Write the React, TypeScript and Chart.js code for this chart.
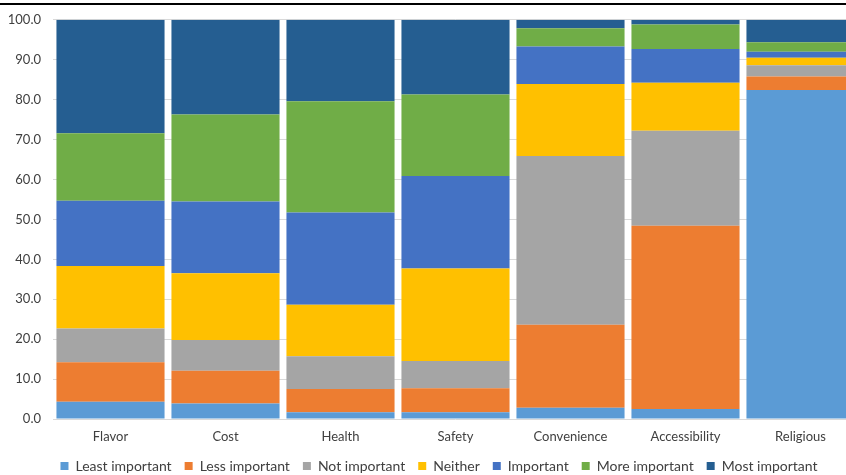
import React, { useEffect, useRef } from "react";
import { Chart, registerables } from "chart.js";

Chart.register(...registerables);

// Food choice factors
const categories = ["Flavor", "Cost", "Health", "Safety", "Convenience", "Accessibility", "Religious"];

// Share of responses per importance level (%)
const leastImportant = [4.3, 3.9, 1.7, 1.7, 2.8, 2.5, 82.4];
const lessImportant = [9.9, 8.2, 5.8, 6.0, 20.8, 45.9, 3.4];
const notImportant = [8.5, 7.7, 8.2, 6.8, 42.3, 23.8, 2.8];
const neither = [15.6, 16.7, 12.9, 23.2, 18.0, 12.0, 1.9];
const important = [16.4, 18.0, 23.1, 23.2, 9.4, 8.5, 1.5];
const moreImportant = [16.9, 21.8, 27.9, 20.4, 4.6, 6.1, 2.4];
const mostImportant = [28.4, 23.7, 20.4, 18.7, 2.1, 1.2, 5.6];

const seriesLabels = [
  "Least important",
  "Less important",
  "Not important",
  "Neither",
  "Important",
  "More important",
  "Most important",
];
const seriesValues = [leastImportant, lessImportant, notImportant, neither, important, moreImportant, mostImportant];
const seriesColors = ["#5B9BD5", "#ED7D31", "#A5A5A5", "#FFC000", "#4472C4", "#70AD47", "#255E91"];

const yTicks = [0, 10, 20, 30, 40, 50, 60, 70, 80, 90, 100];

const FONT = "Lato, 'Open Sans', sans-serif";

// Nudges the legend row to the right so it sits centred under the visible plot
const legendOffset = {
  id: "legendOffset",
  afterLayout(chart: any) {
    const lg = chart.legend;
    if (lg) {
      lg.left += 10;
      lg.right += 10;
    }
  },
};

export default function App() {
  const canvasRef = useRef<HTMLCanvasElement | null>(null);

  useEffect(() => {
    if (!canvasRef.current) return;
    const chart = new Chart(canvasRef.current, {
      type: "bar",
      data: {
        labels: categories,
        datasets: seriesLabels.map((label, i) => ({
          label,
          data: seriesValues[i],
          backgroundColor: seriesColors[i],
          borderWidth: 0,
          barPercentage: 0.94,
          categoryPercentage: 1,
        })),
      },
      plugins: [legendOffset],
      options: {
        responsive: false,
        animation: false,
        layout: { padding: { left: 0, right: 20, top: 19, bottom: 0 } },
        plugins: {
          tooltip: { enabled: false },
          legend: {
            position: "bottom",
            maxHeight: 29,
            labels: {
              boxWidth: 8,
              boxHeight: 8,
              padding: 13,
              color: "#404040",
              font: { family: FONT, size: 14 },
            },
          },
        },
        scales: {
          x: {
            stacked: true,
            grid: { display: false, drawTicks: false },
            border: { display: false },
            ticks: {
              color: "#404040",
              padding: 10,
              font: { family: FONT, size: 13 },
              maxRotation: 0,
              autoSkip: false,
            },
            afterFit: (scale: any) => {
              scale.height = 27;
            },
          },
          y: {
            stacked: true,
            min: 0,
            max: 100,
            grid: { color: "#D9D9D9", lineWidth: 1, drawTicks: false },
            border: { display: false },
            afterBuildTicks: (scale: any) => {
              scale.ticks = yTicks.map((v) => ({ value: v }));
            },
            ticks: {
              color: "#404040",
              padding: 12,
              font: { family: FONT, size: 13 },
              callback: (v: any) => Number(v).toFixed(1),
            },
            afterFit: (scale: any) => {
              scale.width = 53;
            },
          },
        },
      },
    });
    return () => chart.destroy();
  }, []);

  return (
    <div
      style={{
        position: "fixed",
        left: 0,
        top: 0,
        width: 846,
        height: 475,
        overflow: "hidden",
        background: "#ffffff",
      }}
    >
      <div
        style={{
          position: "absolute",
          left: 0,
          top: 3,
          width: 846,
          height: 2,
          background: "#000000",
        }}
      />
      <canvas
        ref={canvasRef}
        width={878}
        height={475}
        style={{ position: "absolute", left: 0, top: 0, width: 878, height: 475 }}
      />
    </div>
  );
}
